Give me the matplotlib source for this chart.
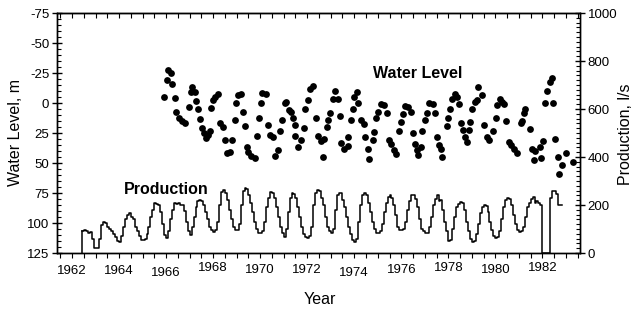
import matplotlib
matplotlib.use("Agg")
import matplotlib.pyplot as plt
from matplotlib.ticker import MultipleLocator, FixedLocator, NullFormatter
import numpy as np

plt.rcParams['font.family'] = ['Liberation Sans', 'DejaVu Sans']
plt.rcParams['axes.unicode_minus'] = False

# ---------------- data ----------------
wl_year = [1966.10, 1966.21, 1966.03, 1966.27, 1965.93, 1966.38, 1966.42, 1966.56, 1966.66, 1966.80,
           1966.97, 1967.08, 1967.06, 1967.22, 1967.25, 1967.37, 1967.44, 1967.51, 1967.62, 1967.68,
           1967.76, 1967.86, 1967.90, 1968.00, 1968.07, 1968.19, 1968.28, 1968.43, 1968.50, 1968.81,
           1968.57, 1968.71, 1968.92, 1968.99, 1969.06, 1969.20, 1969.25, 1969.34, 1969.42, 1969.49,
           1969.60, 1969.80, 1969.88, 1969.94, 1970.02, 1970.08, 1970.26, 1970.33, 1970.40, 1970.55,
           1970.61, 1970.76, 1970.86, 1970.93, 1971.04, 1971.11, 1971.21, 1971.32, 1971.39, 1971.46,
           1971.49, 1971.61, 1971.75, 1971.86, 1971.92, 1972.03, 1972.10, 1972.24, 1972.38, 1972.45,
           1972.59, 1972.73, 1972.67, 1972.85, 1972.90, 1972.97, 1973.09, 1973.19, 1973.30, 1973.40,
           1973.44, 1973.58, 1973.72, 1973.75, 1973.86, 1973.94, 1974.00, 1974.12, 1974.15, 1974.29,
           1974.40, 1974.46, 1974.57, 1974.64, 1974.78, 1974.85, 1974.92, 1975.02, 1975.14, 1975.28,
           1975.39, 1975.49, 1975.56, 1975.67, 1975.77, 1975.91, 1975.98, 1976.06, 1976.15, 1976.27,
           1976.41, 1976.48, 1976.58, 1976.66, 1976.72, 1976.83, 1976.90, 1977.00, 1977.08, 1977.18,
           1977.33, 1977.42, 1977.51, 1977.61, 1977.68, 1977.75, 1977.93, 1977.99, 1978.07, 1978.17,
           1978.27, 1978.36, 1978.45, 1978.53, 1978.64, 1978.69, 1978.78, 1978.88, 1978.92, 1979.02,
           1979.12, 1979.20, 1979.26, 1979.44, 1979.51, 1979.66, 1979.72, 1979.91, 1980.01, 1980.08,
           1980.19, 1980.29, 1980.36, 1980.47, 1980.57, 1980.67, 1980.78, 1980.90, 1981.07, 1981.14,
           1981.21, 1981.28, 1981.46, 1981.56, 1981.63, 1981.70, 1981.89, 1981.94, 1982.03, 1982.13,
           1982.20, 1982.31, 1982.41, 1982.45, 1982.55, 1982.65, 1982.69, 1982.83, 1983.02, 1983.31]
wl_level = [-27.5, -25.3, -19.2, -15.6, -5.3, -3.9, 7.2, 12.7, 15.0, 16.9,
            3.1, -13.1, -9.4, -9.4, -1.9, 5.3, 13.6, 21.1, 24.7, 29.4,
            26.7, 23.1, 3.9, -2.5, -5.3, -7.3, 16.4, 20.2, 30.8, 30.8,
            41.4, 40.6, 14.2, 0.2, -6.7, -7.3, 7.2, 19.2, 36.4, 40.6,
            44.2, 46.1, 27.5, 12.7, 0.3, -8.6, -7.3, 18.3, 26.7, 28.6,
            44.2, 39.2, 23.1, 14.2, 0.3, -1.1, 5.8, 7.2, 12.7, 18.3,
            27.5, 36.4, 30.8, 21.1, 5.3, -2.5, -11.4, -14.2, 12.2, 27.5,
            31.4, 30.3, 44.7, 19.7, 14.2, 8.6, -3.1, -10.3, -3.1, 10.8,
            33.1, 38.6, 35.8, 28.1, 14.2, 5.3, -4.7, -9.4, 0.3, 14.2,
            17.5, 28.6, 38.6, 46.9, 30.8, 23.9, 12.7, 7.2, 0.8, 1.7,
            8.1, 30.8, 34.2, 39.2, 42.5, 23.1, 15.6, 9.2, 2.5, 3.1,
            7.2, 25.3, 34.2, 39.2, 43.3, 36.9, 23.1, 14.2, 8.1, 0.3,
            0.8, 8.1, 28.6, 35.0, 38.6, 44.7, 19.4, 12.7, 5.3, -3.1,
            -7.5, -5.3, 0.8, 16.9, 22.5, 28.6, 32.3, 22.5, 15.6, 5.3,
            -1.1, -2.5, -13.6, -6.7, 18.3, 28.6, 30.8, 23.1, 12.7, 1.7,
            -3.1, -1.1, 0.8, 14.8, 32.3, 35.0, 38.6, 41.4, 16.4, 14.8,
            8.1, 5.3, 21.9, 38.6, 47.5, 39.7, 36.9, 45.9, 31.4, 0.3,
            -10.3, -17.7, -20.6, 0.3, 30.3, 45.3, 59.2, 51.7, 41.4, 49.2]

# production, l/s: monthly values starting June 1962
prod_start_year = 1962
prod_start_month = 5
production = [
    90, 95, 92, 85, 88, 60, 20,
    20, 20, 60, 115, 129, 125, 110, 100, 90, 80, 65, 50,
    47, 70, 110, 140, 160, 167, 150, 140, 110, 90, 70, 55,
    54, 60, 80, 110, 150, 180, 208, 205, 200, 170, 120, 75,
    61, 90, 140, 180, 208, 205, 208, 200, 200, 175, 130, 90,
    75, 110, 150, 190, 215, 221, 218, 200, 170, 140, 110, 95,
    89, 95, 130, 200, 255, 262, 250, 220, 180, 140, 110, 96,
    96, 120, 200, 260, 271, 265, 240, 210, 170, 130, 100, 85,
    83, 90, 130, 190, 230, 255, 250, 230, 190, 150, 110, 85,
    68, 100, 170, 230, 249, 245, 230, 190, 150, 110, 80, 68,
    62, 70, 110, 200, 250, 262, 260, 230, 200, 150, 110, 90,
    83, 100, 180, 240, 249, 248, 220, 190, 150, 110, 80, 55,
    47, 60, 130, 200, 240, 249, 240, 210, 170, 130, 100, 85,
    83, 90, 120, 170, 210, 235, 242, 230, 200, 160, 110, 95,
    96, 100, 130, 180, 215, 242, 240, 225, 190, 140, 100, 90,
    83, 85, 110, 150, 200, 225, 240, 215, 220, 180, 130, 90,
    51, 55, 100, 150, 190, 205, 214, 210, 180, 130, 90, 60,
    47, 50, 80, 120, 165, 190, 200, 195, 170, 130, 95, 70,
    62, 65, 90, 140, 190, 220, 229, 225, 200, 160, 120, 95,
    89, 90, 110, 150, 190, 210, 225, 233, 210, 215, 208, 200,
    0, 0, 0, 0, 230, 260, 260, 245, 200, 200,
]

year_labels = [1962, 1964, 1966, 1968, 1970, 1972, 1974, 1976, 1978, 1980, 1982]
left_ticks = [-75, -50, -25, 0, 25, 50, 75, 100, 125]
right_ticks = [0, 200, 400, 600, 800, 1000]

# ---------------- figure ----------------
W, H = 635, 309
fig = plt.figure(figsize=(W / 100, H / 100), dpi=100)
ax = fig.add_axes([57 / W, 56 / H, 523 / W, 240 / H])
ax.set_xlim(1961.36, 1983.6)
ax.set_ylim(125, -75)

ax2 = ax.twinx()
ax2.set_ylim(0, 1000)

# production step line
n = len(production)
t = prod_start_year + (prod_start_month + np.arange(n + 1)) / 12.0
vals = np.append(production, production[-1])
ax2.step(t, vals, where='post', color='black', lw=1.1, zorder=2)
ax2.plot([t[0], t[0]], [0, production[0]], color='black', lw=1.1)

# water level scatter
ax.scatter(wl_year, wl_level, s=24, color='black', linewidths=0, zorder=3)

# ticks
ax.set_yticks(left_ticks)
ax.yaxis.set_minor_locator(MultipleLocator(5))
ax.tick_params(axis='y', which='major', direction='inout', length=7, width=1,
               labelsize=9.5, pad=2)
ax.tick_params(axis='y', which='minor', direction='in', length=3, width=0.8)

ax2.set_yticks(right_ticks)
ax2.yaxis.set_minor_locator(MultipleLocator(20))
ax2.tick_params(axis='y', which='major', direction='inout', length=7, width=1,
                labelsize=9.5, pad=2)
ax2.tick_params(axis='y', which='minor', direction='in', length=3, width=0.8)

xt = np.arange(1961.5, 1983.6, 0.5)
ax.xaxis.set_major_locator(FixedLocator(xt))
ax.xaxis.set_major_formatter(NullFormatter())
ax.tick_params(axis='x', which='major', direction='out', length=3.5, width=0.8,
               top=False)
sec = ax.secondary_xaxis('top')
sec.xaxis.set_major_locator(FixedLocator(xt))
sec.xaxis.set_major_formatter(NullFormatter())
sec.tick_params(axis='x', direction='in', length=3.5, width=0.8)

label_dy = [-0.077, -0.075, -0.084, -0.063, -0.071, -0.071, -0.084, -0.071, -0.061, -0.071, -0.061]
for yr, dy in zip(year_labels, label_dy):
    ax.text(yr, dy, str(yr), transform=ax.get_xaxis_transform(), ha='center',
            va='center', fontsize=9.5)

for a in (ax, ax2):
    for s in a.spines.values():
        s.set_linewidth(1.0)

fig.text(320 / W, 1 - 300 / H, 'Year', ha='center', va='center', fontsize=11.5)
fig.text(16 / W, 1 - 133 / H, 'Water Level, m', rotation=90, ha='center',
         va='center', fontsize=11.5)
fig.text(625 / W, 1 - 134 / H, 'Production, l/s', rotation=90, ha='center',
         va='center', fontsize=11.5)

fig.text(418 / W, 1 - 74 / H, 'Water Level', fontsize=11.5, fontweight='bold',
         ha='center', va='center')
fig.text(166 / W, 1 - 189 / H, 'Production', fontsize=11.5, fontweight='bold',
         ha='center', va='center')

fig.savefig('out.png', dpi=100)
